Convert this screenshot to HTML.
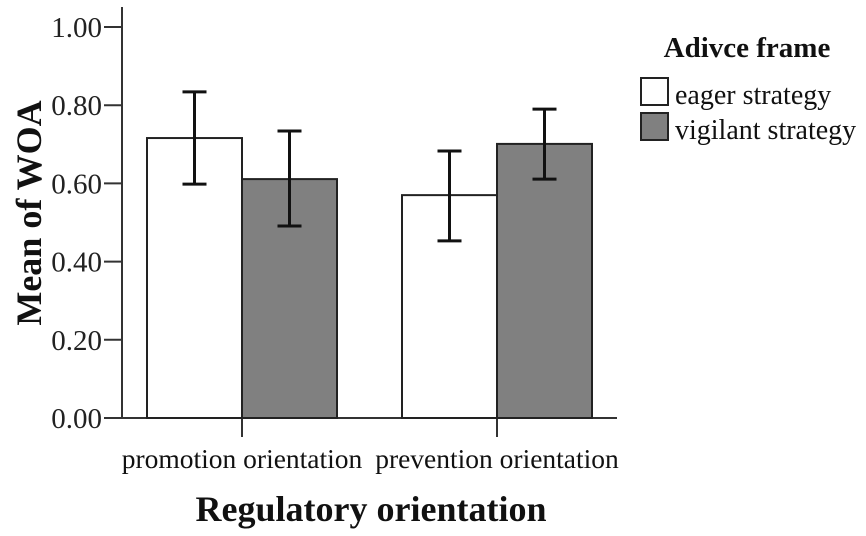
<!DOCTYPE html>
<html><head><meta charset="utf-8"><style>
html,body{margin:0;padding:0;background:#fff;}
svg{display:block;font-family:"Liberation Serif",serif;}
</style></head><body>
<svg id="chart" width="866" height="536" viewBox="0 0 866 536" xmlns="http://www.w3.org/2000/svg">
<g id="axes"></g>
<g id="bars"></g>
<text transform="translate(41,213) rotate(-90)" text-anchor="middle" font-size="36" font-weight="bold" fill="#111">Mean of WOA</text>
<text x="371" y="521" text-anchor="middle" font-size="36" font-weight="bold" fill="#111">Regulatory orientation</text>
<g>
<text x="747" y="57" text-anchor="middle" font-size="29" font-weight="bold" fill="#111">Adivce frame</text>
<rect x="641" y="78" width="27" height="27" fill="#fff" stroke="#222" stroke-width="2"/>
<text x="675" y="104" font-size="28" fill="#111">eager strategy</text>
<rect x="641" y="113" width="27" height="27" fill="#808080" stroke="#222" stroke-width="2"/>
<text x="675" y="139" font-size="28" fill="#111">vigilant strategy</text>
</g>
</svg>
<script>
const categories = ["promotion orientation", "prevention orientation"];
const eagerMeans = [0.716, 0.570];
const eagerLow = [0.598, 0.453];
const eagerHigh = [0.834, 0.683];
const vigilantMeans = [0.611, 0.701];
const vigilantLow = [0.491, 0.611];
const vigilantHigh = [0.734, 0.790];
const yTicks = [0, 0.2, 0.4, 0.6, 0.8, 1.0];
const yTickLabels = ["0.00", "0.20", "0.40", "0.60", "0.80", "1.00"];

const NS = "http://www.w3.org/2000/svg";
const y0 = 418, y1 = 27, axisX = 122, axisRight = 617;
function yScale(v){ return y0 - v * (y0 - y1); }
const catCenters = [242, 497], barW = 95;
function xCenter(i){ return catCenters[0] + i * (catCenters[1] - catCenters[0]); }
function mk(tag, attrs, parent){ const e = document.createElementNS(NS, tag); for (const k in attrs) e.setAttribute(k, attrs[k]); parent.appendChild(e); return e; }

const axes = document.getElementById('axes');
const bars = document.getElementById('bars');
let yl = mk('line', {x1:axisX, y1:7, x2:axisX, y2:y0, stroke:'#333', 'stroke-width':2}, axes);


yTicks.forEach((t, i) => {
  const y = yScale(t);
  const tk = mk('line', {x1:104, y1:y, x2:axisX, y2:y, stroke:'#333', 'stroke-width':2}, axes);
  
  
  const tx = mk('text', {x:102, y:y + 10, 'text-anchor':'end', 'font-size':29, fill:'#222'}, axes);
  tx.textContent = yTickLabels[i];
  
  
});

function drawBar(cx, v, lo, hi, fill, name){
  const yt = yScale(v);
  const r = mk('rect', {x: cx, y: yt, width: barW, height: y0 - yt, fill: fill, stroke:'#222', 'stroke-width':2}, bars);
  
  
  const mx = cx + barW / 2;
  const g = mk('g', {stroke:'#111', 'stroke-width':3}, bars);
  
  
  mk('line', {x1:mx, y1:yScale(hi), x2:mx, y2:yScale(lo)}, g);
  mk('line', {x1:mx - 12, y1:yScale(hi), x2:mx + 12, y2:yScale(hi)}, g);
  mk('line', {x1:mx - 12, y1:yScale(lo), x2:mx + 12, y2:yScale(lo)}, g);
}
categories.forEach((c, i) => {
  const cx = xCenter(i);
  drawBar(cx - barW, eagerMeans[i], eagerLow[i], eagerHigh[i], '#fff', 'bar-eager-' + i);
  drawBar(cx, vigilantMeans[i], vigilantLow[i], vigilantHigh[i], '#808080', 'bar-vigilant-' + i);
  const tk = mk('line', {x1:cx, y1:y0, x2:cx, y2:437, stroke:'#333', 'stroke-width':2}, axes);
  
  
  const tx = mk('text', {x:cx, y:468, 'text-anchor':'middle', 'font-size':27.5, fill:'#111'}, axes);
  tx.textContent = c;
  
  
});
let xl = mk('line', {x1:axisX, y1:y0, x2:axisRight, y2:y0, stroke:'#333', 'stroke-width':2}, axes);


</script>
</body></html>
